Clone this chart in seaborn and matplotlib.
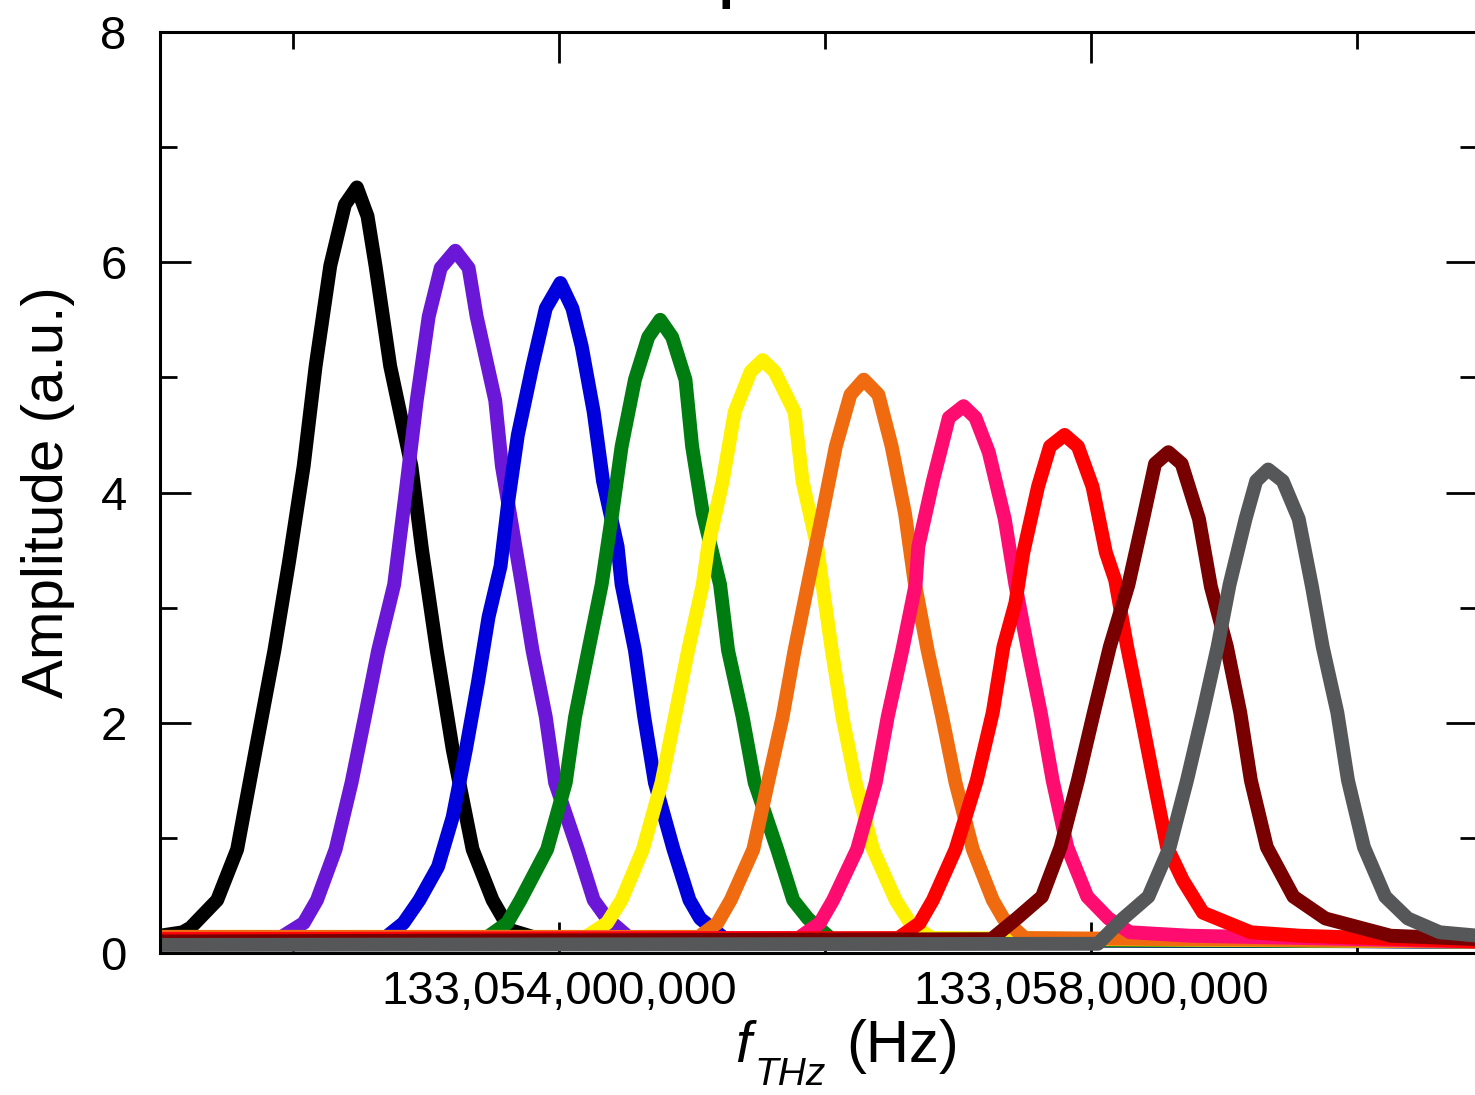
import pandas as pd
import matplotlib
matplotlib.use("Agg")
import matplotlib.pyplot as plt
from matplotlib.ticker import MultipleLocator, FuncFormatter
import seaborn as sns

# frequencies in MHz above 133,050,000,000 Hz, amplitudes in a.u.
f0_hz = 133_050_000_000

black_mhz = [1.00, 1.17, 1.23, 1.43, 1.58, 1.72, 1.86, 1.97, 2.08, 2.17, 2.28, 2.39, 2.48,
             2.56, 2.62, 2.73, 2.89, 2.97, 3.08, 3.20, 3.35, 3.50, 3.63, 3.86, 10.91]
black_amp = [0.15, 0.18, 0.22, 0.46, 0.90, 1.77, 2.63, 3.40, 4.23, 5.10, 5.97, 6.50, 6.65,
             6.40, 5.97, 5.10, 4.23, 3.50, 2.63, 1.77, 0.90, 0.46, 0.20, 0.12, 0.10]

purple_mhz = [1.00, 1.90, 2.08, 2.18, 2.32, 2.44, 2.54, 2.64, 2.76, 2.84, 2.93, 3.02, 3.11,
              3.22, 3.32, 3.38, 3.52, 3.57, 3.72, 3.80, 3.90, 3.97, 4.14, 4.26, 4.36, 4.53, 10.91]
purple_amp = [0.12, 0.13, 0.26, 0.46, 0.90, 1.48, 2.05, 2.63, 3.20, 3.94, 4.80, 5.53, 5.95,
              6.10, 5.95, 5.53, 4.80, 4.23, 3.20, 2.63, 2.05, 1.48, 0.90, 0.46, 0.30, 0.13, 0.10]

blue_mhz = [1.00, 2.69, 2.83, 2.95, 3.09, 3.20, 3.30, 3.39, 3.47, 3.56, 3.62, 3.69, 3.80, 3.90,
            4.01, 4.10, 4.17, 4.26, 4.33, 4.44, 4.47, 4.57, 4.64, 4.72, 4.86, 4.98, 5.06, 5.25, 10.91]
blue_amp = [0.12, 0.13, 0.26, 0.46, 0.75, 1.18, 1.77, 2.35, 2.92, 3.36, 3.94, 4.50, 5.10, 5.60,
            5.82, 5.60, 5.27, 4.70, 4.10, 3.53, 3.20, 2.63, 2.05, 1.48, 0.90, 0.46, 0.30, 0.12, 0.10]

green_mhz = [1.00, 3.45, 3.61, 3.71, 3.91, 4.05, 4.12, 4.22, 4.32, 4.40, 4.47, 4.57, 4.67, 4.76,
             4.85, 4.95, 5.00, 5.08, 5.21, 5.27, 5.38, 5.47, 5.64, 5.76, 5.87, 6.05, 10.91]
green_amp = [0.12, 0.13, 0.26, 0.46, 0.90, 1.48, 2.05, 2.63, 3.20, 3.82, 4.40, 4.98, 5.35, 5.50,
             5.35, 4.98, 4.40, 3.82, 3.20, 2.63, 2.05, 1.48, 0.90, 0.46, 0.30, 0.12, 0.10]

yellow_mhz = [1.00, 4.20, 4.36, 4.47, 4.63, 4.77, 4.87, 4.97, 5.08, 5.12, 5.23, 5.32, 5.44, 5.53,
              5.62, 5.77, 5.83, 5.94, 5.98, 6.05, 6.13, 6.23, 6.36, 6.53, 6.64, 6.80, 10.91]
yellow_amp = [0.14, 0.14, 0.26, 0.46, 0.90, 1.48, 2.05, 2.63, 3.20, 3.53, 4.10, 4.70, 5.05, 5.15,
              5.05, 4.70, 4.10, 3.53, 3.20, 2.63, 2.05, 1.48, 0.90, 0.46, 0.26, 0.13, 0.10]

orange_mhz = [1.00, 5.05, 5.19, 5.29, 5.46, 5.57, 5.68, 5.77, 5.87, 5.98, 6.08, 6.19, 6.29,
              6.40, 6.50, 6.60, 6.67, 6.77, 6.88, 6.98, 7.11, 7.26, 7.34, 7.50, 10.91]
orange_amp = [0.14, 0.14, 0.26, 0.46, 0.90, 1.48, 2.05, 2.63, 3.20, 3.82, 4.40, 4.85, 4.98,
              4.85, 4.40, 3.82, 3.24, 2.63, 2.05, 1.48, 0.90, 0.46, 0.30, 0.13, 0.10]

pink_mhz = [1.00, 5.80, 5.96, 6.06, 6.24, 6.38, 6.47, 6.58, 6.68, 6.70, 6.81, 6.93, 7.04, 7.13,
            7.23, 7.35, 7.43, 7.52, 7.62, 7.71, 7.82, 7.97, 8.13, 8.29, 8.74, 10.91]
pink_amp = [0.12, 0.13, 0.26, 0.46, 0.90, 1.48, 2.05, 2.63, 3.20, 3.53, 4.10, 4.65, 4.75, 4.65,
            4.35, 3.77, 3.20, 2.66, 2.09, 1.50, 0.92, 0.49, 0.30, 0.18, 0.15, 0.10]

red_mhz = [1.00, 6.55, 6.71, 6.81, 6.98, 7.14, 7.26, 7.34, 7.43, 7.49, 7.60, 7.69, 7.80, 7.90,
           8.01, 8.11, 8.18, 8.27, 8.37, 8.47, 8.57, 8.69, 8.84, 9.20, 9.57, 10.91]
red_amp = [0.12, 0.13, 0.26, 0.46, 0.90, 1.50, 2.09, 2.66, 3.04, 3.48, 4.05, 4.40, 4.50, 4.40,
           4.05, 3.48, 3.24, 2.66, 2.09, 1.50, 0.92, 0.63, 0.35, 0.18, 0.15, 0.10]

darkred_mhz = [1.00, 7.25, 7.44, 7.63, 7.77, 7.90, 8.02, 8.14, 8.28, 8.39, 8.48, 8.58, 8.68,
               8.81, 8.90, 9.02, 9.12, 9.20, 9.32, 9.52, 9.76, 10.25, 10.91]
darkred_amp = [0.10, 0.12, 0.30, 0.49, 0.92, 1.50, 2.09, 2.66, 3.20, 3.77, 4.25, 4.35, 4.25,
               3.77, 3.18, 2.66, 2.09, 1.50, 0.92, 0.49, 0.30, 0.15, 0.12]

gray_mhz = [1.00, 8.05, 8.24, 8.43, 8.59, 8.72, 8.84, 8.95, 9.04, 9.16, 9.24, 9.33, 9.44, 9.56,
            9.66, 9.74, 9.85, 9.93, 10.05, 10.21, 10.38, 10.62, 10.91]
gray_amp = [0.07, 0.08, 0.30, 0.49, 0.92, 1.50, 2.09, 2.66, 3.20, 3.77, 4.10, 4.20, 4.10, 3.77,
            3.18, 2.66, 2.09, 1.50, 0.92, 0.49, 0.30, 0.18, 0.15]

curve_names = ["black", "purple", "blue", "green", "yellow", "orange", "pink", "red", "darkred", "gray"]
curve_colors = ["#000000", "#6a17d8", "#0000dc", "#007d10", "#fff200", "#f06a10", "#ff0c70",
                "#ff0000", "#780000", "#555759"]
series = [(black_mhz, black_amp), (purple_mhz, purple_amp), (blue_mhz, blue_amp),
          (green_mhz, green_amp), (yellow_mhz, yellow_amp), (orange_mhz, orange_amp),
          (pink_mhz, pink_amp), (red_mhz, red_amp), (darkred_mhz, darkred_amp), (gray_mhz, gray_amp)]

frames = []
for name, (mhz, amp) in zip(curve_names, series):
    frames.append(pd.DataFrame({"freq": [f0_hz + m * 1e6 for m in mhz], "amp": amp, "curve": name}))
df = pd.concat(frames, ignore_index=True)

sns.set_style("ticks")
plt.rcParams["font.family"] = ["Liberation Sans", "DejaVu Sans"]
plt.rcParams["text.color"] = "black"
plt.rcParams["axes.labelcolor"] = "black"

W, H = 1475, 1095
fig = plt.figure(figsize=(W / 100, H / 100), dpi=100)
ax = fig.add_axes([160 / W, 142 / H, 1317 / W, 921 / H])

sns.lineplot(data=df, x="freq", y="amp", hue="curve", hue_order=curve_names,
             palette=curve_colors, estimator=None, sort=False, linewidth=10, legend=False, ax=ax)

ax.set_xlim(f0_hz + 1.0e6, f0_hz + 10.9e6)
ax.set_ylim(0, 8)

ax.xaxis.set_major_locator(MultipleLocator(4e6, offset=2e6))
ax.xaxis.set_minor_locator(MultipleLocator(2e6))
ax.xaxis.set_major_formatter(FuncFormatter(lambda v, p: f"{v:,.0f}"))
ax.yaxis.set_major_locator(MultipleLocator(2))
ax.yaxis.set_minor_locator(MultipleLocator(1))

ax.tick_params(which="both", direction="in", top=True, right=True, width=2,
               colors="black", labelcolor="black")
ax.tick_params(which="major", length=22, labelsize=34)
ax.tick_params(axis="x", which="major", pad=12)
ax.tick_params(axis="y", which="major", pad=24)
ax.tick_params(which="minor", length=12)
for s in ax.spines.values():
    s.set_linewidth(2.2)
    s.set_color("black")

ax.set_xlabel("")
ax.set_ylabel("Amplitude (a.u.)", fontsize=42, labelpad=18)

# x label: f with an italic THz subscript, then the unit
fig.text(735 / W, 1 - 1062 / H, "f", fontsize=41, style="italic", ha="left", va="baseline")
fig.text(755 / W, 1 - 1085 / H, "THz", fontsize=28, style="italic", ha="left", va="baseline")
fig.text(846 / W, 1 - 1062 / H, "(Hz)", fontsize=43, ha="left", va="baseline")

# title sits mostly above the top edge, as in the source image
fig.text(0.488, 1.0 + 3 / H, "Top2", fontsize=40, fontweight="bold", ha="center", va="baseline")

fig.savefig("out.png", dpi=100)
